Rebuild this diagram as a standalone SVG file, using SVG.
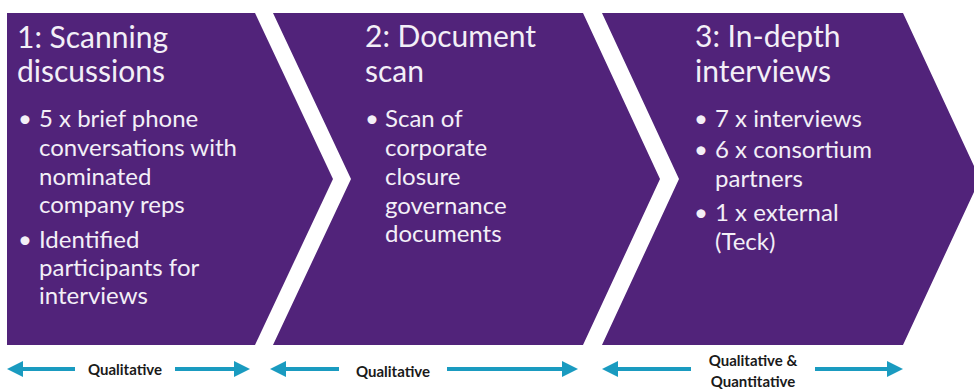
<svg xmlns="http://www.w3.org/2000/svg" width="974" height="392" viewBox="0 0 974 392">
<style>
.shape{fill:#51237A}
.title{font-family:Lato,"Open Sans","Liberation Sans",sans-serif;font-size:30px;fill:#F3EFF7}
.bul{font-family:Lato,"Open Sans","Liberation Sans",sans-serif;font-size:24px;fill:#F3EFF7}
.lbl{font-family:Lato,"Open Sans","Liberation Sans",sans-serif;font-size:15px;font-weight:bold;fill:#1a1a1a}
.arr{stroke:#1A9BC0;stroke-width:4;fill:none;marker-end:url(#head)}
</style>
<defs>
<marker id="head" viewBox="0 0 16 16" refX="0" refY="8" markerWidth="16" markerHeight="16" markerUnits="userSpaceOnUse" orient="auto">
<path d="M0,0 L16,8 L0,16 z" fill="#1A9BC0"/>
</marker>
</defs>
<rect width="974" height="392" fill="#fff"/>
<g id="step1">
<polygon class="shape" points="7,13 255,13 333,179 255,345 7,345"/>
<text class="title" x="17" y="48">1: Scanning</text>
<text class="title" x="17" y="82">discussions</text>
<text class="bul" x="18" y="127">•</text>
<text class="bul" x="39" y="127">5 x brief phone</text>
<text class="bul" x="39" y="156">conversations with</text>
<text class="bul" x="39" y="185">nominated</text>
<text class="bul" x="39" y="213">company reps</text>
<text class="bul" x="18" y="248">•</text>
<text class="bul" x="39" y="248">Identified</text>
<text class="bul" x="39" y="276">participants for</text>
<text class="bul" x="39" y="304">interviews</text>
</g>
<g id="step2">
<polygon class="shape" points="273,13 583,13 660,179 583,345 273,345 351,179"/>
<text class="title" x="365" y="47">2: Document</text>
<text class="title" x="365" y="82">scan</text>
<text class="bul" x="365" y="127">•</text>
<text class="bul" x="385" y="127">Scan of</text>
<text class="bul" x="385" y="156">corporate</text>
<text class="bul" x="385" y="185">closure</text>
<text class="bul" x="385" y="214">governance</text>
<text class="bul" x="385" y="242">documents</text>
</g>
<g id="step3">
<polygon class="shape" points="602,13 903,13 980,179 903,345 602,345 679,179"/>
<text class="title" x="695" y="47">3: In-depth</text>
<text class="title" x="695" y="82">interviews</text>
<text class="bul" x="694" y="127">•</text>
<text class="bul" x="715" y="127">7 x interviews</text>
<text class="bul" x="694" y="158">•</text>
<text class="bul" x="715" y="158">6 x consortium</text>
<text class="bul" x="715" y="187">partners</text>
<text class="bul" x="694" y="221">•</text>
<text class="bul" x="715" y="221">1 x external</text>
<text class="bul" x="715" y="250">(Teck)</text>
</g>
<g id="connectors">
<line class="arr" x1="75" y1="369" x2="23" y2="369"/>
<line class="arr" x1="175" y1="369" x2="234" y2="369"/>
<line class="arr" x1="339" y1="369" x2="286" y2="369"/>
<line class="arr" x1="447" y1="369" x2="562" y2="369"/>
<line class="arr" x1="691" y1="369" x2="618" y2="369"/>
<line class="arr" x1="815" y1="369" x2="887" y2="369"/>
</g>
<g id="labels">
<text class="lbl" x="125" y="375" text-anchor="middle">Qualitative</text>
<text class="lbl" x="393" y="377" text-anchor="middle">Qualitative</text>
<text class="lbl" x="753" y="366" text-anchor="middle">Qualitative &amp;</text>
<text class="lbl" x="753" y="387" text-anchor="middle">Quantitative</text>
</g>
</svg>
